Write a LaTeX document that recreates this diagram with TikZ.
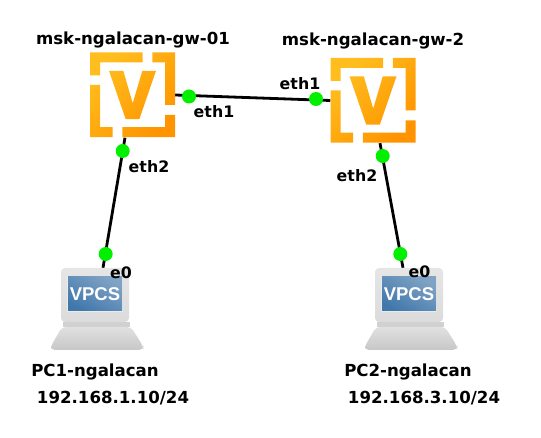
\documentclass[tikz,border=0pt]{standalone}
\usepackage{fontspec}
\setmainfont{DejaVu Sans}
\newfontfamily\vpcsfont{Liberation Sans}
\usetikzlibrary{calc}
\usetikzlibrary{positioning}

\definecolor{portgreen}{HTML}{00F000}
\definecolor{routerlight}{HTML}{FFBE1E}
\definecolor{routerdark}{HTML}{FF9400}
\definecolor{screenlight}{HTML}{7FA3C4}
\definecolor{screendark}{HTML}{4178AC}

\tikzset{
  port/.style={circle,fill=portgreen,inner sep=0pt,minimum size=14pt},
  link/.style={line width=2.8pt,black},
  lbl/.style={font=\bfseries\fontsize{16.6}{19}\selectfont,inner sep=0pt},
  portlbl/.style={font=\bfseries\fontsize{15.8}{19}\selectfont,inner sep=0pt},
  routerbox/.style={inner sep=0pt,minimum width=85pt,minimum height=85pt},
  pcbox/.style={inner sep=0pt,minimum width=92pt,minimum height=82pt},
}

% router icon, origin at its centre
\newcommand{\drawrouter}[1]{
\begin{scope}[shift={(#1)},shift={(-42.5,-42.5)}]
\shade[top color=routerlight,bottom color=routerdark,shading angle=45]
 (0,0) -- (52.7,0) -- (52.7,10) -- (10,10) -- (10,23) -- (0,23) -- cycle
 (62.3,0) -- (85,0) -- (85,52.3) -- (75,52.3) -- (75,10) -- (62.3,10) -- cycle
 (32.3,74.7) -- (75,74.7) -- (75,62.3) -- (85,62.3) -- (85,84.7) -- (32.3,84.7) -- cycle
 (0,32.3) -- (10,32.3) -- (10,74.7) -- (22.7,74.7) -- (22.7,84.7) -- (0,84.7) -- cycle
 (19,18.3) -- (33.3,18.3) -- (42.7,50.7) -- (52.3,18.3) -- (66,18.3) -- (49.3,66.7) -- (35.7,66.7) -- cycle;
\end{scope}
}

% host icon, origin at its centre
\newcommand{\drawhost}[1]{
\begin{scope}[shift={(#1)},shift={(-46,-41)}]
\shade[top color=black!12,bottom color=black!22,rounded corners=4pt] (11,59) -- (80,59) -- (92,78) -- (92,82) -- (0,82) -- (0,78) -- cycle;
\fill[black!18] (12,54) rectangle (79,59);
\shade[top color=black!10,bottom color=black!14,rounded corners=4pt] (10,0) rectangle (78,54);
\fill[white!92!black] (16,8) rectangle (72,44);
\shade[top color=screenlight,bottom color=screendark,shading angle=-30] (17,9) rectangle (71,43);
\node[white,font=\vpcsfont\bfseries\fontsize{18.5}{20}\selectfont,inner sep=0pt] at (44,26) {VPCS};
\end{scope}
}

\begin{document}
\begin{tikzpicture}[x=1pt,y=-1pt]
\useasboundingbox (0,0) rectangle (541,438);

\node[routerbox] (gw1) at (132.5,95) {};
\node[routerbox] (gw2) at (373,100.5) {};
\node[pcbox] (pc1) at (97,309) {};
\node[pcbox] (pc2) at (411,309) {};

\draw[link] (gw1.east) -- (gw2.west);
\draw[link] ($(gw1.south)+(-7.5,0)$) -- ($(pc1.north)+(6,0)$);
\draw[link] ($(gw2.south)+(7,0)$) -- ($(pc2.north)+(-8,0)$);

\drawrouter{gw1}
\drawrouter{gw2}
\drawhost{pc1}
\drawhost{pc2}

\node[port] (p1) at (189,96.5) {};
\node[port] (p2) at (316,99) {};
\node[port] (p3) at (122.7,151) {};
\node[port] (p4) at (382.7,156) {};
\node[port] (p5) at (105.7,254) {};
\node[port] (p6) at (400.3,254) {};

\node[lbl] (name1) at (133,40) {msk-ngalacan-gw-01};
\node[lbl] (name2) at (373,41) {msk-ngalacan-gw-2};
\node[portlbl] (eth1a) at (214,112) {eth1};
\node[portlbl] (eth1b) at (300,84) {eth1};
\node[portlbl] (eth2a) at (149,167) {eth2};
\node[portlbl] (eth2b) at (357,176) {eth2};
\node[portlbl] (e0a) at (121,273) {e0};
\node[portlbl] (e0b) at (419.5,272) {e0};
\node[lbl] (pcname1) at (95,372) {PC1-ngalacan};
\node[lbl] (pcaddr1) at (113,398) {192.168.1.10/24};
\node[lbl] (pcname2) at (408,372) {PC2-ngalacan};
\node[lbl] (pcaddr2) at (424,398) {192.168.3.10/24};
\end{tikzpicture}
\end{document}
